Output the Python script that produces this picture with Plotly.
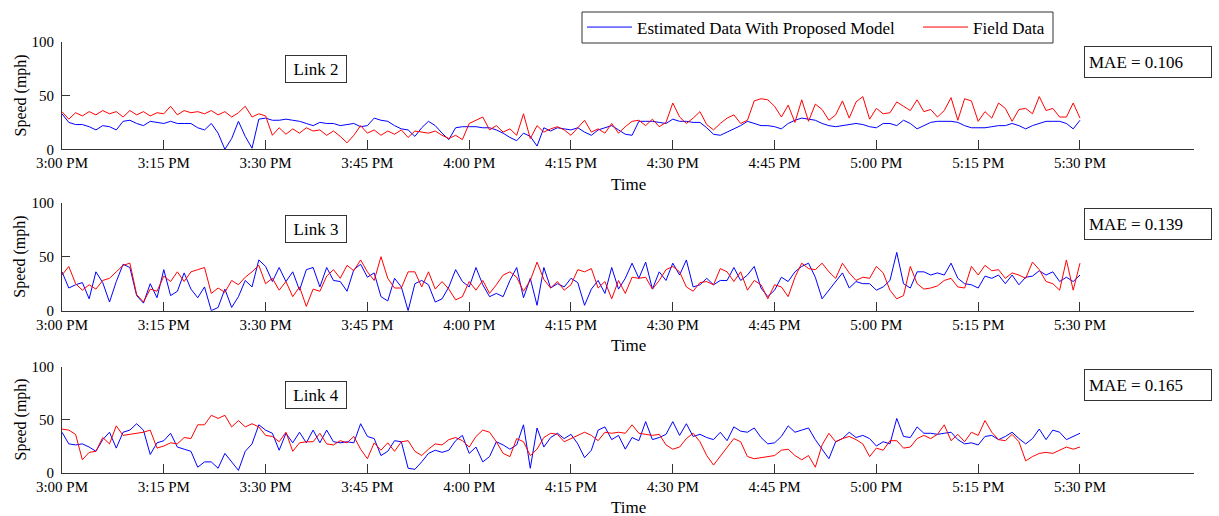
import pandas as pd
import plotly.graph_objects as go

W, H = 1219, 516

# ---- data: speed per minute, 3:00 PM to 5:30 PM ----
START = "2016-05-10 15:00"
END = "2016-05-10 17:30"
AXIS_END = "2016-05-10 17:46:48"

TICK_LABELS = ["3:00 PM", "3:15 PM", "3:30 PM", "3:45 PM", "4:00 PM", "4:15 PM",
               "4:30 PM", "4:45 PM", "5:00 PM", "5:15 PM", "5:30 PM"]
LINK_NAMES = ["Link 2", "Link 3", "Link 4"]
MAE_VALUES = [0.106, 0.139, 0.165]
SERIES_NAMES = ["Estimated Data With Proposed Model", "Field Data"]

link2_est = [33, 25, 23, 23, 21, 18, 22, 21, 18, 26,
             27, 24, 22, 26, 25, 24, 26, 24, 24, 24,
             20, 18, 24, 15, 0, 10, 26, 12, 1, 28,
             29, 27, 27, 28, 27, 26, 24, 22, 25, 24,
             24, 22, 23, 24, 21, 22, 29, 27, 26, 22,
             19, 18, 12, 20, 26, 22, 15, 9, 20, 21,
             21, 21, 20, 20, 18, 15, 11, 8, 15, 12,
             3, 20, 17, 20, 19, 18, 20, 16, 13, 18,
             20, 22, 18, 14, 13, 26, 26, 26, 25, 24,
             28, 26, 26, 25, 25, 20, 14, 13, 16, 19,
             22, 26, 24, 22, 22, 21, 19, 24, 27, 29,
             28, 27, 24, 22, 21, 22, 23, 24, 23, 21,
             20, 24, 24, 22, 27, 24, 19, 22, 25, 26,
             26, 26, 25, 22, 20, 20, 20, 21, 22, 22,
             24, 22, 19, 22, 24, 26, 26, 26, 24, 19, 27]
link2_field = [35, 28, 34, 31, 35, 32, 36, 33, 35, 30,
               36, 32, 35, 31, 34, 33, 40, 32, 36, 34,
               35, 33, 36, 32, 35, 30, 34, 40, 30, 33,
               31, 13, 20, 14, 19, 15, 20, 17, 18, 13,
               17, 12, 6, 13, 22, 15, 18, 13, 17, 14,
               18, 11, 17, 16, 15, 17, 13, 10, 13, 9,
               24, 27, 30, 18, 22, 16, 19, 13, 33, 10,
               22, 16, 19, 21, 18, 13, 20, 27, 16, 19,
               15, 24, 15, 21, 26, 27, 22, 28, 21, 25,
               43, 30, 24, 29, 35, 23, 18, 24, 29, 32,
               24, 27, 45, 47, 46, 40, 30, 41, 25, 46,
               26, 42, 37, 27, 32, 45, 29, 44, 49, 28,
               38, 33, 34, 44, 40, 36, 46, 35, 37, 30,
               36, 48, 27, 47, 45, 26, 35, 29, 43, 38,
               26, 37, 38, 33, 49, 36, 38, 30, 30, 43, 29]

link3_est = [36, 21, 24, 26, 11, 36, 26, 8, 27, 43,
             40, 14, 7, 25, 12, 38, 14, 18, 35, 20,
             12, 22, 0, 3, 20, 3, 13, 28, 22, 47,
             41, 27, 40, 27, 36, 19, 38, 40, 22, 40,
             28, 27, 18, 38, 43, 31, 35, 13, 9, 30,
             22, 0, 25, 28, 24, 8, 11, 22, 38, 27,
             22, 40, 24, 13, 16, 13, 28, 40, 12, 30,
             5, 40, 21, 25, 22, 30, 26, 5, 20, 28,
             16, 40, 20, 30, 44, 30, 45, 20, 36, 28,
             44, 33, 47, 22, 24, 30, 24, 28, 28, 40,
             28, 33, 41, 21, 13, 19, 31, 27, 36, 41,
             44, 31, 11, 19, 28, 35, 21, 27, 25, 25,
             19, 22, 28, 54, 25, 21, 36, 36, 33, 35,
             33, 44, 30, 25, 24, 21, 32, 30, 33, 25,
             33, 24, 31, 32, 37, 33, 36, 27, 31, 27, 33]
link3_field = [33, 41, 25, 19, 24, 20, 28, 30, 36, 42,
               44, 15, 8, 20, 18, 32, 27, 36, 27, 36,
               38, 40, 16, 21, 17, 28, 24, 31, 36, 42,
               25, 30, 19, 27, 13, 22, 4, 20, 18, 32,
               38, 30, 42, 37, 47, 36, 28, 50, 30, 21,
               21, 36, 36, 22, 36, 20, 27, 20, 10, 13,
               27, 19, 28, 16, 24, 33, 36, 31, 18, 28,
               45, 29, 21, 27, 19, 24, 38, 36, 39, 21,
               27, 11, 28, 16, 31, 30, 31, 20, 28, 38,
               41, 36, 22, 18, 26, 27, 24, 39, 36, 27,
               36, 19, 28, 24, 11, 24, 22, 13, 31, 44,
               39, 38, 44, 36, 30, 44, 35, 28, 31, 30,
               41, 35, 19, 11, 14, 41, 25, 20, 21, 23,
               28, 30, 22, 21, 41, 33, 42, 37, 38, 30,
               35, 33, 30, 45, 38, 27, 25, 19, 47, 19, 44]

link4_est = [38, 27, 26, 27, 24, 20, 31, 38, 23, 38,
             40, 46, 40, 17, 28, 30, 37, 24, 22, 20,
             5, 10, 10, 4, 18, 10, 2, 20, 27, 45,
             40, 37, 21, 37, 28, 38, 28, 40, 28, 40,
             29, 28, 29, 28, 46, 34, 32, 16, 20, 30,
             29, 4, 3, 10, 18, 21, 19, 21, 30, 35,
             18, 24, 10, 15, 29, 26, 22, 26, 45, 4,
             42, 24, 33, 37, 32, 36, 27, 14, 21, 40,
             43, 31, 35, 22, 33, 30, 48, 31, 33, 36,
             48, 35, 46, 34, 36, 33, 31, 38, 30, 43,
             39, 38, 42, 33, 27, 28, 34, 44, 38, 40,
             42, 31, 22, 13, 29, 32, 38, 33, 35, 32,
             25, 29, 27, 51, 34, 33, 43, 37, 37, 36,
             37, 38, 31, 27, 28, 26, 34, 35, 31, 34,
             38, 32, 27, 32, 41, 31, 40, 38, 31, 34, 37]
link4_field = [41, 40, 36, 12, 19, 20, 33, 27, 44, 35,
               36, 37, 38, 40, 23, 25, 28, 27, 33, 32,
               45, 45, 54, 51, 54, 43, 49, 43, 46, 43,
               35, 34, 29, 38, 20, 28, 29, 29, 37, 27,
               26, 30, 28, 34, 22, 13, 28, 21, 28, 20,
               29, 30, 20, 16, 22, 27, 26, 31, 33, 30,
               24, 34, 40, 38, 29, 18, 15, 32, 29, 16,
               22, 33, 37, 36, 29, 32, 35, 38, 35, 30,
               38, 37, 38, 37, 45, 37, 36, 35, 36, 26,
               22, 24, 32, 37, 29, 16, 7, 15, 24, 32,
               29, 15, 13, 14, 15, 16, 21, 22, 16, 12,
               16, 5, 26, 37, 29, 32, 34, 31, 27, 15,
               23, 21, 30, 30, 23, 24, 32, 35, 32, 36,
               45, 30, 36, 29, 38, 35, 49, 38, 31, 30,
               36, 29, 11, 15, 18, 19, 18, 21, 24, 22, 24]

ESTIMATED = [link2_est, link3_est, link4_est]
FIELD = [link2_field, link3_field, link4_field]

times = pd.date_range(START, END, freq="1min")
tick_times = pd.date_range(START, END, freq="15min")

# ---- styling ----
FONT = "Liberation Serif, Times New Roman, serif"
AXIS_COLOR = "#333333"
BLUE = "#0000ff"
RED = "#ff0000"

# pixel geometry of the three panels (plot-area top/bottom in px)
X_LEFT, X_RIGHT = 62, 1194
PANELS = [(41.7, 149.3), (202.7, 310.7), (366.5, 472.5)]
LINK_BOX_Y = [68.5, 229, 394.5]
MAE_BOX_Y = [62, 224, 385]
LEGEND_BOX = (582, 12, 1053, 43)   # x0, y0, x1, y1 in px


def px_x(px):
    return px / W


def px_y(py):
    return 1 - py / H


fig = go.Figure()

for i in range(3):
    sfx = "" if i == 0 else str(i + 1)
    fig.add_trace(go.Scatter(
        x=times, y=ESTIMATED[i], mode="lines", name=SERIES_NAMES[0],
        line=dict(color=BLUE, width=1), showlegend=(i == 0),
        xaxis="x" + sfx, yaxis="y" + sfx, legend="legend"))
    fig.add_trace(go.Scatter(
        x=times, y=FIELD[i], mode="lines", name=SERIES_NAMES[1],
        line=dict(color=RED, width=1), showlegend=(i == 0),
        xaxis="x" + sfx, yaxis="y" + sfx, legend="legend2"))

legend_mid = px_y((LEGEND_BOX[1] + LEGEND_BOX[3]) / 2)
legend_common = dict(
    orientation="h", xanchor="left", yanchor="middle", y=legend_mid,
    borderwidth=0, bgcolor="rgba(0,0,0,0)",
    font=dict(family=FONT, size=17, color="black"),
    itemwidth=45,
)

layout = dict(
    width=W, height=H,
    margin=dict(l=0, r=0, t=0, b=0, autoexpand=False),
    paper_bgcolor="white", plot_bgcolor="white",
    font=dict(family=FONT, size=15, color="black"),
    showlegend=True,
    legend=dict(x=px_x(LEGEND_BOX[0]), **legend_common),
    legend2=dict(x=px_x(918), **legend_common),
    shapes=[dict(
        type="rect", xref="paper", yref="paper",
        x0=px_x(LEGEND_BOX[0]), x1=px_x(LEGEND_BOX[2]),
        y0=px_y(LEGEND_BOX[3]), y1=px_y(LEGEND_BOX[1]),
        line=dict(color=AXIS_COLOR, width=1), fillcolor="rgba(0,0,0,0)",
    )],
)

annotations = []
for i, (top, bottom) in enumerate(PANELS):
    sfx = "" if i == 0 else str(i + 1)
    layout["xaxis" + sfx] = dict(
        domain=[px_x(X_LEFT), px_x(X_RIGHT)],
        range=[START, AXIS_END],
        tickvals=tick_times, ticktext=TICK_LABELS,
        ticks="inside", ticklen=9, tickwidth=1, tickcolor=AXIS_COLOR,
        showline=True, linecolor=AXIS_COLOR, linewidth=1,
        showgrid=False, zeroline=False, automargin=False,
        anchor="y" + sfx,
        tickfont=dict(family=FONT, size=15, color="black"),
    )
    layout["yaxis" + sfx] = dict(
        domain=[px_y(bottom), px_y(top)],
        range=[0, 100],
        tickvals=[0, 50, 100],
        ticks="inside", ticklen=8, tickwidth=1, tickcolor=AXIS_COLOR,
        showline=True, linecolor=AXIS_COLOR, linewidth=1,
        showgrid=False, zeroline=False, automargin=False,
        anchor="x" + sfx,
        ticklabelstandoff=4,
        tickfont=dict(family=FONT, size=15, color="black"),
    )
    centred = dict(xref="paper", yref="paper", showarrow=False,
                   xanchor="center", yanchor="middle")
    # axis titles
    annotations.append(dict(
        text="Time", x=px_x((X_LEFT + X_RIGHT) / 2), y=px_y(bottom + 35),
        font=dict(family=FONT, size=17, color="black"), **centred))
    annotations.append(dict(
        text="Speed (mph)", x=px_x(20), y=px_y((top + bottom) / 2), textangle=-90,
        font=dict(family=FONT, size=16, color="black"), **centred))
    # link label box
    annotations.append(dict(
        text=LINK_NAMES[i], x=px_x(316), y=px_y(LINK_BOX_Y[i]),
        bordercolor=AXIS_COLOR, borderwidth=1, borderpad=4, bgcolor="white",
        width=52, height=18,
        font=dict(family=FONT, size=17, color="black"), **centred))
    # error box
    annotations.append(dict(
        text=f"MAE = {MAE_VALUES[i]:.3f}", x=px_x(1148), y=px_y(MAE_BOX_Y[i]),
        align="left",
        bordercolor=AXIS_COLOR, borderwidth=1, borderpad=4, bgcolor="white",
        width=118, height=22,
        font=dict(family=FONT, size=17, color="black"), **centred))

layout["annotations"] = annotations
fig.update_layout(**layout)

fig.write_html("out.html")
